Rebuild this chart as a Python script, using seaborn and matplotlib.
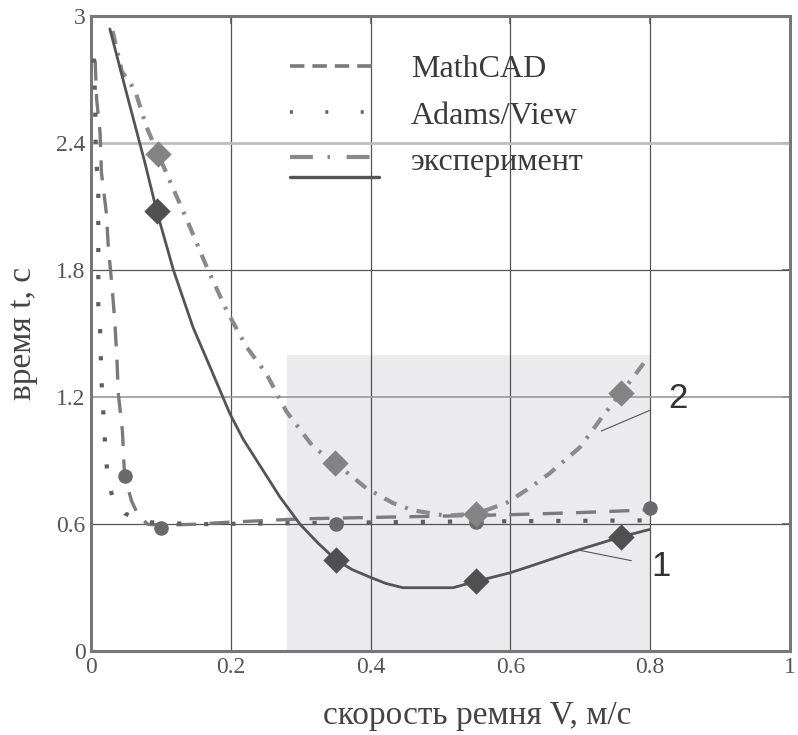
import numpy as np
import pandas as pd
import matplotlib
matplotlib.use("Agg")
import matplotlib.pyplot as plt
import seaborn as sns
from matplotlib.lines import Line2D
from matplotlib.legend_handler import HandlerBase

# ---- data ----
# curve 1 (solid, experiment)
exp1_x = [0.027, 0.053, 0.077, 0.094, 0.118, 0.146, 0.172, 0.199, 0.218, 0.245, 0.27,
          0.299, 0.325, 0.351, 0.374, 0.399, 0.422, 0.446, 0.518, 0.551, 0.599, 0.627,
          0.699, 0.758, 0.799]
exp1_y = [2.94, 2.61, 2.31, 2.08, 1.80, 1.53, 1.33, 1.12, 1.00, 0.86, 0.73,
          0.60, 0.51, 0.43, 0.385, 0.35, 0.32, 0.30, 0.30, 0.33, 0.37, 0.40,
          0.48, 0.54, 0.575]
exp1_mark_x = [0.094, 0.351, 0.551, 0.758]
exp1_mark_y = [2.08, 0.43, 0.33, 0.54]

# curve 2 (dash-dot, experiment)
exp2_x = [0.031, 0.044, 0.063, 0.079, 0.096, 0.113, 0.137, 0.165, 0.194, 0.222, 0.251,
          0.28, 0.318, 0.349, 0.394, 0.432, 0.46, 0.508, 0.551, 0.594, 0.627, 0.656,
          0.70, 0.732, 0.758, 0.777, 0.794]
exp2_y = [2.93, 2.74, 2.65, 2.48, 2.35, 2.22, 2.04, 1.82, 1.61, 1.44, 1.31,
          1.13, 0.965, 0.89, 0.77, 0.70, 0.666, 0.64, 0.65, 0.70, 0.77, 0.84,
          0.965, 1.11, 1.22, 1.30, 1.375]
exp2_mark_x = [0.096, 0.349, 0.551, 0.758]
exp2_mark_y = [2.35, 0.89, 0.65, 1.22]

# MathCAD (dashed)
mcad_x = [0.006, 0.008, 0.013, 0.015, 0.022, 0.025, 0.030, 0.034, 0.037, 0.039, 0.045,
          0.048, 0.058, 0.068, 0.081, 0.10, 0.15, 0.2, 0.3, 0.4, 0.5, 0.6, 0.7, 0.8]
mcad_y = [2.79, 2.61, 2.45, 2.26, 2.07, 1.90, 1.73, 1.56, 1.39, 1.22, 1.04,
          0.83, 0.71, 0.64, 0.60, 0.595, 0.60, 0.61, 0.625, 0.632, 0.638, 0.645, 0.655, 0.668]
mcad_mark_x = [0.048, 0.10, 0.351, 0.551, 0.80]
mcad_mark_y = [0.83, 0.58, 0.60, 0.61, 0.675]

# Adams/View (dotted)
adams_x = [0.004, 0.006, 0.007, 0.0105, 0.0105, 0.0105, 0.0105, 0.013, 0.015, 0.019,
           0.021, 0.024, 0.032, 0.049, 0.077, 0.15, 0.3, 0.5, 0.8]
adams_y = [2.80, 2.60, 2.33, 2.21, 1.98, 1.75, 1.63, 1.52, 1.28, 1.05,
           0.93, 0.82, 0.71, 0.65, 0.61, 0.60, 0.605, 0.612, 0.618]

shade_x = [0.28, 0.8]
shade_top = 1.4

x_ticks = [0, 0.2, 0.4, 0.6, 0.8, 1]
x_ticklabels = ["0", "0.2", "0.4", "0.6", "0.8", "1"]
y_ticks = [0, 0.6, 1.2, 1.8, 2.4, 3]
y_ticklabels = ["0", "0.6", "1.2", "1.8", "2.4", "3"]

legend_labels = ["MathCAD", "Adams/View", "эксперимент"]

C_SOLID = "#545454"
C_DASHDOT = "#8a8a8a"
C_DASH = "#7a7a7a"
C_DOT = "#5e5e5e"

sns.set_style("white")
plt.rcParams["font.family"] = ["Liberation Serif", "DejaVu Serif"]


class HandlerStack(HandlerBase):
    """dash-dot over solid in one legend row"""
    def create_artists(self, legend, orig_handle, xdescent, ydescent, width, height,
                       fontsize, trans):
        arts = []
        for h, dy in zip(orig_handle, (0.06, -0.56)):
            yy = height / 2 - ydescent + dy * fontsize
            ln = Line2D([-xdescent, -xdescent + width], [yy, yy])
            self.update_prop(ln, h, legend)
            ln.set_transform(trans)
            arts.append(ln)
        return arts


fig = plt.figure(figsize=(7.98, 7.35), dpi=100)
ax = fig.add_axes([0.114, 0.114, 0.876, 0.864])

ax.fill_between(shade_x, 0, shade_top, color="#ebebed", lw=0, zorder=0)

# grid
for v in x_ticks[1:-1]:
    ax.axvline(v, color="#555555", lw=0.9, zorder=1)
ax.axhline(y_ticks[1], color="#555555", lw=0.9, zorder=1)
ax.axhline(y_ticks[2], color="#9a9a9a", lw=1.2, zorder=1)
ax.axhline(y_ticks[3], color="#555555", lw=0.9, zorder=1)
ax.axhline(y_ticks[4], color="#bdbdbd", lw=2.0, zorder=1)

sns.lineplot(x=mcad_x, y=mcad_y, ax=ax, sort=False, estimator=None, color=C_DASH,
             lw=2.4, zorder=3)
ax.lines[-1].set_dashes((6, 4))
sns.lineplot(x=adams_x, y=adams_y, ax=ax, sort=False, estimator=None, color=C_DOT,
             lw=3.0, zorder=3)
ax.lines[-1].set_dashes((1, 5.5))
ax.lines[-1].set_dash_capstyle("butt")
sns.lineplot(x=exp2_x, y=exp2_y, ax=ax, sort=False, estimator=None, color=C_DASHDOT,
             lw=3.0, zorder=4)
ax.lines[-1].set_dashes((3.2, 2.2, 0.7, 2.2))
sns.lineplot(x=exp1_x, y=exp1_y, ax=ax, sort=False, estimator=None, color=C_SOLID,
             lw=2.0, zorder=5)

sns.scatterplot(x=mcad_mark_x, y=mcad_mark_y, ax=ax, color="#6a6a6a", marker="o",
                s=110, linewidth=0, zorder=6)
sns.scatterplot(x=exp2_mark_x, y=exp2_mark_y, ax=ax, color="#838383", marker="D",
                s=180, linewidth=0, zorder=6)
sns.scatterplot(x=exp1_mark_x, y=exp1_mark_y, ax=ax, color="#505050", marker="D",
                s=180, linewidth=0, zorder=7)

ax.set_xlim(0, 1)
ax.set_ylim(0, 3)
ax.set_xticks(x_ticks)
ax.set_xticklabels(x_ticklabels)
ax.set_yticks(y_ticks)
ax.set_yticklabels(y_ticklabels)
ax.tick_params(direction="in", length=6, width=1.2, color="#666666", labelsize=17,
               labelcolor="#555555", top=True, right=True, pad=4)
for s in ax.spines.values():
    s.set_color("#777777")
    s.set_linewidth(2.2)

ax.set_xlabel("скорость ремня V, м/с", fontsize=24, color="#444444")
ax.xaxis.set_label_coords(0.553, -0.078)
ax.set_ylabel("время t, с", fontsize=24, color="#444444")
ax.yaxis.set_label_coords(-0.076, 0.5)

# curve labels
ax.annotate("2", xy=(0.73, 1.04), xytext=(0.84, 1.195), fontsize=25,
            family="Liberation Sans", color="#333333", ha="center", va="center",
            arrowprops=dict(arrowstyle="-", color="#555555", lw=0.8, shrinkA=12, shrinkB=0))
ax.annotate("1", xy=(0.70, 0.476), xytext=(0.815, 0.40), fontsize=25,
            family="Liberation Sans", color="#333333", ha="center", va="center",
            arrowprops=dict(arrowstyle="-", color="#555555", lw=0.8, shrinkA=12, shrinkB=0))

h_dash = Line2D([], [], color=C_DASH, lw=2.6, dashes=(4, 2.2))
h_dot = Line2D([], [], color=C_DOT, lw=2.6, dashes=(0.8, 9), dash_capstyle="butt")
h_dd = Line2D([], [], color=C_DASHDOT, lw=3.0, dashes=(5.5, 3.5, 0.6, 4))
h_solid = Line2D([], [], color=C_SOLID, lw=2.4)
ax.legend([h_dash, h_dot, (h_dd, h_solid)], legend_labels,
          handler_map={tuple: HandlerStack()}, loc="upper left",
          bbox_to_anchor=(0.284, 0.939), frameon=False, fontsize=23,
          handlelength=2.8, handletextpad=1.0, labelspacing=0.53,
          borderpad=0, borderaxespad=0, labelcolor="#3a3a3a")

fig.savefig("out.png", dpi=100)
